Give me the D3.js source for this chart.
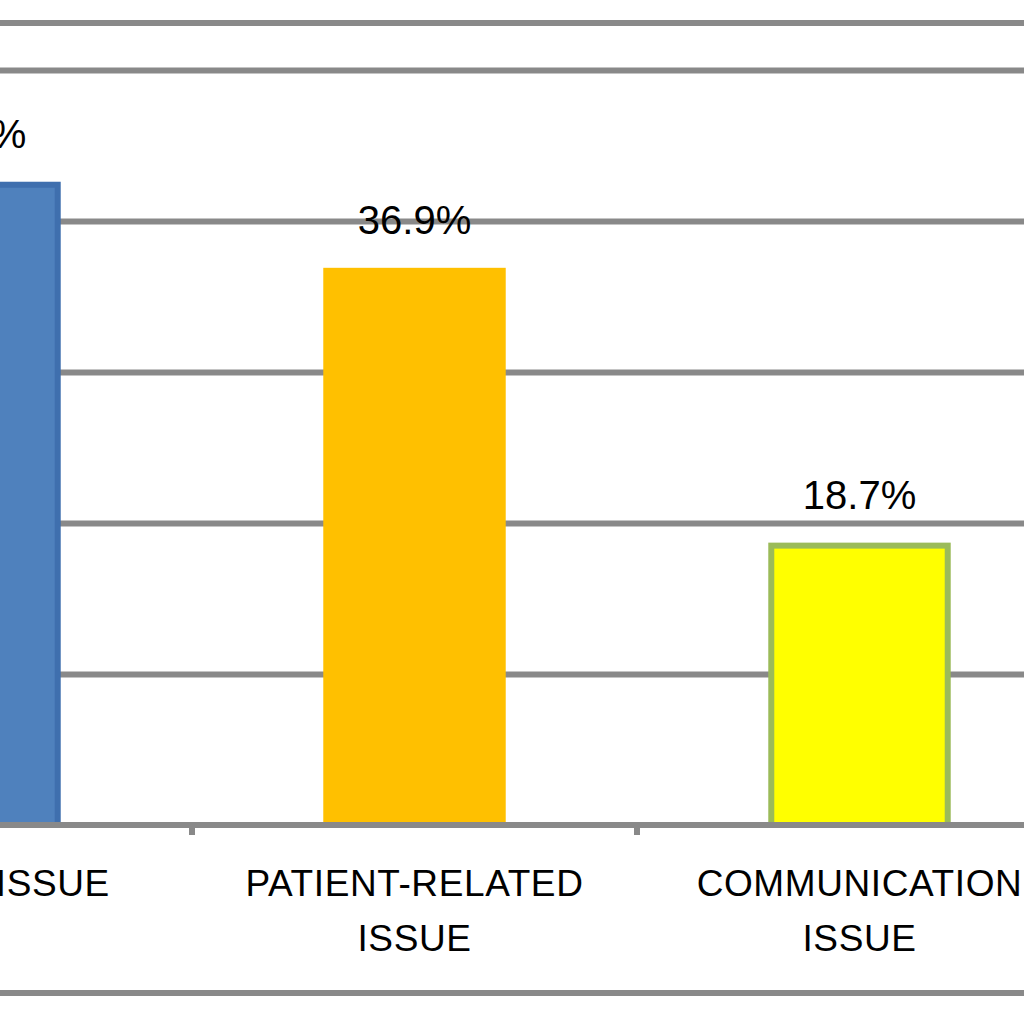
<!DOCTYPE html>
<html>
<head>
<meta charset="utf-8">
<script src="https://cdn.jsdelivr.net/npm/d3@7"></script>
<style>
  html, body { margin: 0; padding: 0; background: #fff; }
  svg { display: block; }
</style>
</head>
<body>
<svg id="chart" width="1024" height="1024"></svg>
<script>
// ---- data ----
const categories = ["SYSTEM ISSUE", "PATIENT-RELATED ISSUE", "COMMUNICATION ISSUE"];
const categoryLines = [["SYSTEM ISSUE"], ["PATIENT-RELATED", "ISSUE"], ["COMMUNICATION", "ISSUE"]];
const values = [42.6, 36.9, 18.7];
const valueLabels = ["42.6%", "36.9%", "18.7%"];
const yTicks = [0, 10, 20, 30, 40, 50];
const fills = ["#4F81BD", "#FFC000", "#FFFF00"];
const strokes = ["#3F6FAE", "none", "#9BBB59"];

// ---- layout ----
const svg = d3.select("#chart");
const W = 1024, H = 1024;
const gridColor = "#898989";
const sw = 6;

const x = d3.scaleBand()
  .domain(categories)
  .range([-253, 1082])
  .paddingInner(0.59)
  .paddingOuter(0.295);

const y = d3.scaleLinear().domain([0, 50]).range([825, 70]);

// chart border lines (top and bottom of chart area)
svg.append("line").attr("x1", 0).attr("x2", W).attr("y1", 23).attr("y2", 23)
  .attr("stroke", gridColor).attr("stroke-width", 6);
svg.append("line").attr("x1", 0).attr("x2", W).attr("y1", 993).attr("y2", 993)
  .attr("stroke", gridColor).attr("stroke-width", 6);

// gridlines
const yAxis = d3.axisLeft(y).tickValues(yTicks.slice(1)).tickSize(-2000).tickFormat("");
const gy = svg.append("g").call(yAxis);
gy.select(".domain").remove();
gy.selectAll(".tick line").attr("stroke", gridColor).attr("stroke-width", 6).attr("x1", 0).attr("x2", W);

// bars (stroke drawn inside the bar outline)
svg.append("g").selectAll("rect")
  .data(categories)
  .join("rect")
  .attr("x", (d, i) => x(d) + (strokes[i] === "none" ? 0 : sw / 2))
  .attr("width", (d, i) => x.bandwidth() - (strokes[i] === "none" ? 0 : sw))
  .attr("y", (d, i) => y(values[i]) + (strokes[i] === "none" ? 0 : sw / 2))
  .attr("height", (d, i) => y(0) - y(values[i]) - (strokes[i] === "none" ? 0 : sw / 2))
  .attr("fill", (d, i) => fills[i])
  .attr("stroke", (d, i) => strokes[i])
  .attr("stroke-width", sw);

// x axis line with tick marks at category boundaries
svg.append("line").attr("x1", 0).attr("x2", W).attr("y1", y(0)).attr("y2", y(0))
  .attr("stroke", gridColor).attr("stroke-width", 6);
svg.append("g").selectAll("line.tk")
  .data(categories.slice(1))
  .join("line")
  .attr("class", "tk")
  .attr("x1", d => x(d) - (x.step() - x.bandwidth()) / 2)
  .attr("x2", d => x(d) - (x.step() - x.bandwidth()) / 2)
  .attr("y1", y(0))
  .attr("y2", y(0) + 10)
  .attr("stroke", gridColor).attr("stroke-width", 6);

// value labels
svg.append("g").selectAll("text")
  .data(categories)
  .join("text")
  .attr("x", d => x(d) + x.bandwidth() / 2)
  .attr("y", (d, i) => y(values[i]) - 34)
  .attr("text-anchor", "middle")
  .attr("font-family", "'Liberation Sans', Arial, sans-serif")
  .attr("font-size", 40)
  .attr("fill", "#000")
  .text((d, i) => valueLabels[i]);

// category labels
const lab = svg.append("g").selectAll("text")
  .data(categories)
  .join("text")
  .attr("text-anchor", "middle")
  .attr("font-family", "'Liberation Sans', Arial, sans-serif")
  .attr("font-size", 37)
  .attr("letter-spacing", 0.6)
  .attr("fill", "#000");
lab.each(function(d, i) {
  const t = d3.select(this);
  const cx = x(d) + x.bandwidth() / 2;
  categoryLines[i].forEach((ln, j) => {
    t.append("tspan").attr("x", cx).attr("y", 896 + j * 55).text(ln);
  });
});
</script>
</body>
</html>
